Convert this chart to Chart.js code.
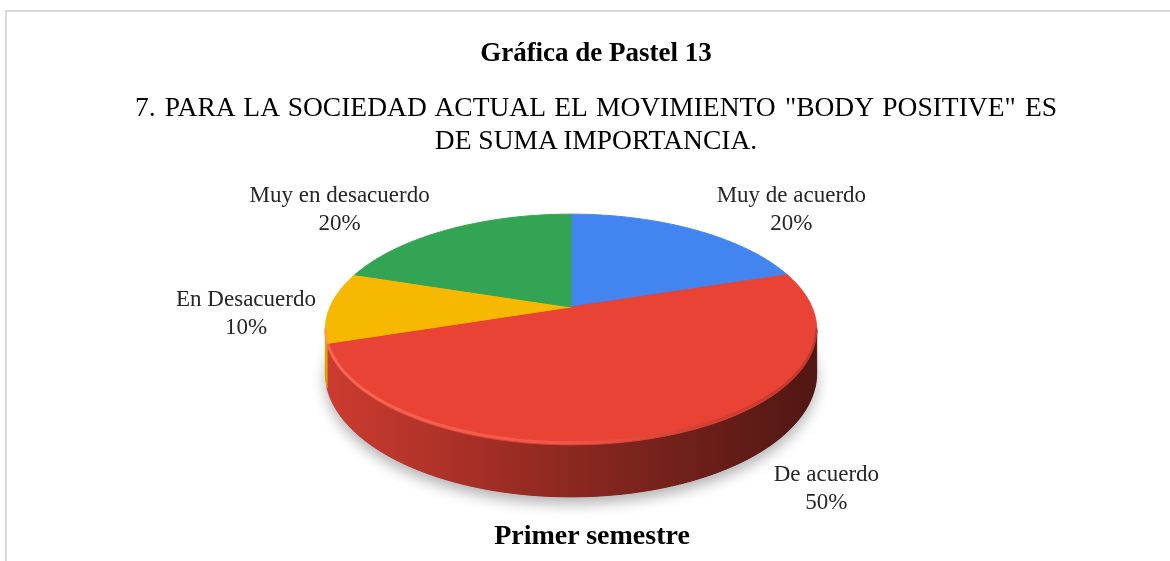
<!DOCTYPE html>
<html lang="es">
<head>
<meta charset="utf-8">
<title>Gráfica de Pastel 13</title>
<script src="https://cdn.jsdelivr.net/npm/chart.js"></script>
<style>
  html, body { margin: 0; padding: 0; background: #fff; }
  body {
    width: 1170px; height: 561px; position: relative; overflow: hidden;
    font-family: 'Liberation Serif', 'Times New Roman', serif; color: #000;
  }
  .frame {
    position: absolute; left: 5px; top: 10px; right: -10px; bottom: -10px;
    border-left: 2px solid #d9d9d9; border-top: 2px solid #d9d9d9;
  }
  canvas { position: absolute; left: 0; top: 0; }
  .txt { position: absolute; white-space: nowrap; text-align: center; }
  .heading { left: 296px; width: 600px; top: 39px; font-size: 27px; line-height: 27px; font-weight: bold; }
  .question { font-size: 27.5px; line-height: 27.5px; }
  .q1 { left: 135px; width: 922px; top: 92.5px; text-align: justify; text-align-last: justify; white-space: normal; }
  .q2 { left: 296px; width: 600px; top: 125.5px; }
  .footer { left: 292px; width: 600px; top: 521px; font-size: 28px; line-height: 28px; font-weight: bold; }
</style>
</head>
<body>
<div class="frame"></div>
<canvas id="chart" width="1170" height="561"></canvas>
<div class="txt heading">Gráfica de Pastel 13</div>
<div class="txt question q1">7. PARA LA SOCIEDAD ACTUAL EL MOVIMIENTO "BODY POSITIVE" ES</div>
<div class="txt question q2">DE SUMA IMPORTANCIA.</div>
<div class="txt footer">Primer semestre</div>
<script>
const categories = ['Muy de acuerdo', 'De acuerdo', 'En Desacuerdo', 'Muy en desacuerdo'];
const percentages = [20, 50, 10, 20];

const sliceColors = ['#4285f0', '#e84335', '#f7b801', '#33a453'];
// label offsets from the rim point at the middle of each slice
const labelNudges = [[98, -27], [164, 44], [-84, -1], [-109, -27]];

// pie placement and 3d look
const CENTER_X = 571, CENTER_Y = 307, RADIUS = 241;
const TILT = 0.4604;   // vertical squash of the top face
const PERSP = 0.195;   // how much the near edge grows
const DEPTH = 0.1738;  // thickness, relative to the radius
const A0 = Math.asin(PERSP);

function project(arc, angle, drop) {
  const u = Math.cos(angle), v = Math.sin(angle);
  const w = 1 - PERSP * v;
  return {
    x: arc.x + arc.outerRadius * u / w,
    y: arc.y + arc.outerRadius * (TILT * v + drop) / w
  };
}

function shade(hex, f) {
  const n = parseInt(hex.slice(1), 16);
  const r = (n >> 16) & 255, g = (n >> 8) & 255, b = n & 255;
  return `rgb(${Math.round(r * f)},${Math.round(g * f)},${Math.round(b * f)})`;
}

function trace(ctx, arc, from, to, drop, moveFirst) {
  const steps = Math.max(2, Math.ceil(Math.abs(to - from) / 0.01));
  for (let i = 0; i <= steps; i++) {
    const p = project(arc, from + (to - from) * i / steps, drop);
    if (i === 0 && moveFirst) ctx.moveTo(p.x, p.y);
    else ctx.lineTo(p.x, p.y);
  }
}

const pie3d = {
  id: 'pie3d',
  beforeDatasetsDraw(chart) {
    const ctx = chart.ctx;
    const arcs = chart.getDatasetMeta(0).data;
    const colors = chart.data.datasets[0].backgroundColor;
    const base = arcs[0];
    const r = base.outerRadius;
    ctx.save();

    // soft shadow below the pie
    ctx.beginPath();
    trace(ctx, base, 0, Math.PI * 2, DEPTH, true);
    ctx.closePath();
    ctx.shadowColor = 'rgba(0,0,0,0.3)';
    ctx.shadowBlur = 14;
    ctx.shadowOffsetY = 7;
    ctx.fillStyle = shade(colors[1], 0.45);
    ctx.fill();
    ctx.shadowColor = 'transparent';

    // side walls (front half only)
    arcs.forEach((arc, i) => {
      const a = Math.max(arc.startAngle, A0);
      const b = Math.min(arc.endAngle, Math.PI - A0);
      if (b <= a) return;
      const grad = ctx.createLinearGradient(arc.x - r, 0, arc.x + r, 0);
      grad.addColorStop(0, shade(colors[i], 0.88));
      grad.addColorStop(0.5, shade(colors[i], 0.6));
      grad.addColorStop(1, shade(colors[i], 0.35));
      ctx.beginPath();
      trace(ctx, arc, a, b, 0, true);
      trace(ctx, arc, b, a, DEPTH, false);
      ctx.closePath();
      ctx.fillStyle = grad;
      ctx.strokeStyle = grad;
      ctx.lineWidth = 1;
      ctx.fill();
      ctx.stroke();
    });

    // top faces
    arcs.forEach((arc, i) => {
      ctx.beginPath();
      ctx.moveTo(arc.x, arc.y);
      trace(ctx, arc, arc.startAngle, arc.endAngle, 0, false);
      ctx.closePath();
      ctx.fillStyle = colors[i];
      ctx.strokeStyle = colors[i];
      ctx.lineWidth = 1;
      ctx.fill();
      ctx.stroke();
    });

    // soft bevel just inside the front rim
    const hl = ctx.createLinearGradient(base.x - r, 0, base.x + r, 0);
    hl.addColorStop(0, 'rgba(255,140,120,0.5)');
    hl.addColorStop(0.5, 'rgba(255,125,105,0.35)');
    hl.addColorStop(1, 'rgba(60,10,5,0.2)');
    ctx.beginPath();
    trace(ctx, base, A0, Math.PI - A0, -0.007, true);
    ctx.strokeStyle = hl;
    ctx.lineWidth = 3;
    ctx.stroke();

    ctx.restore();
    return false;
  },
  afterDraw(chart) {
    const ctx = chart.ctx;
    const arcs = chart.getDatasetMeta(0).data;
    const values = chart.data.datasets[0].data;
    const total = values.reduce((s, v) => s + v, 0);
    ctx.save();
    ctx.font = '23px "Liberation Serif", "Times New Roman", serif';
    ctx.textAlign = 'center';
    ctx.textBaseline = 'alphabetic';
    ctx.fillStyle = '#262626';
    arcs.forEach((arc, i) => {
      const p = project(arc, (arc.startAngle + arc.endAngle) / 2, 0);
      const [dx, dy] = labelNudges[i];
      ctx.fillText(chart.data.labels[i], p.x + dx, p.y + dy);
      ctx.fillText(Math.round(values[i] / total * 100) + '%', p.x + dx, p.y + dy + 28);
    });
    ctx.restore();
  }
};

new Chart(document.getElementById('chart'), {
  type: 'pie',
  data: {
    labels: categories,
    datasets: [{
      data: percentages,
      backgroundColor: sliceColors,
      borderWidth: 0,
      offset: 0,
      hoverOffset: 0
    }]
  },
  options: {
    responsive: false,
    animation: false,
    events: [],
    layout: {
      padding: {
        left: CENTER_X - RADIUS,
        right: 1170 - CENTER_X - RADIUS,
        top: CENTER_Y - RADIUS,
        bottom: 561 - CENTER_Y - RADIUS
      }
    },
    plugins: {
      legend: { display: false },
      tooltip: { enabled: false },
      title: { display: false }
    }
  },
  plugins: [pie3d]
});
</script>
</body>
</html>
